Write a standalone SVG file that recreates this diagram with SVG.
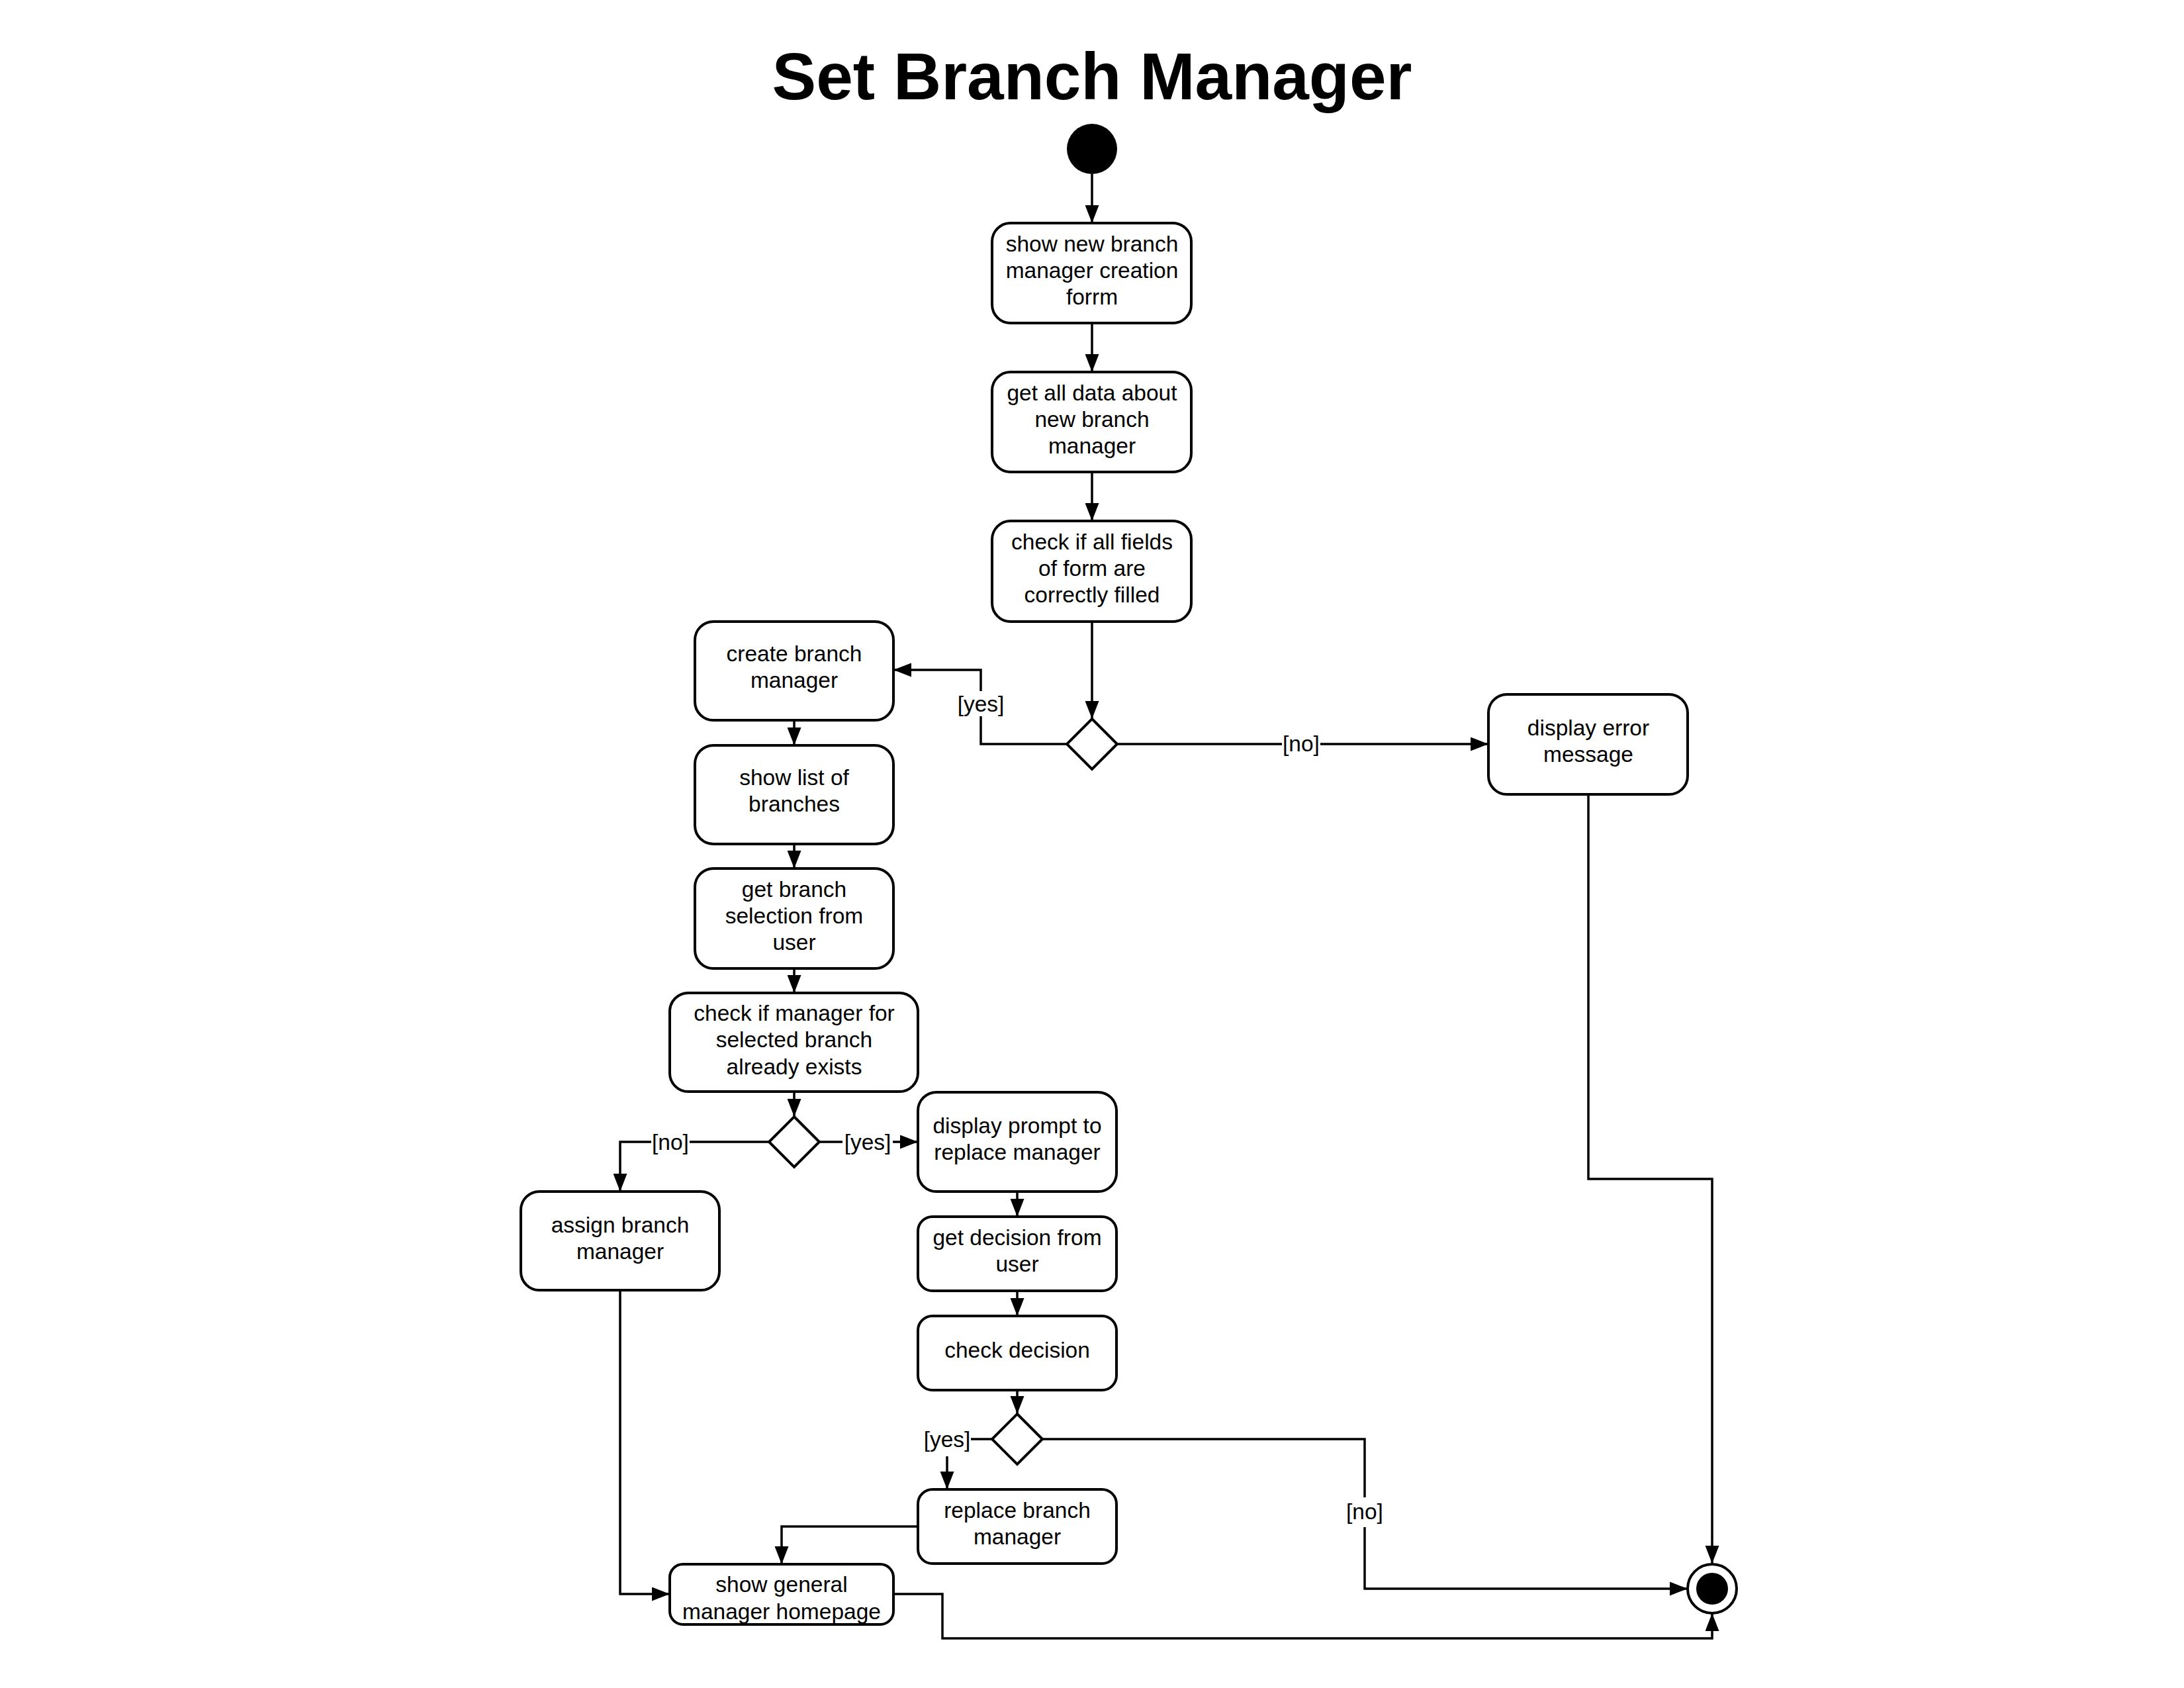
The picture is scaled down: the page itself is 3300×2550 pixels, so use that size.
<svg xmlns="http://www.w3.org/2000/svg" width="3300" height="2550" viewBox="0 0 3300 2550">
<style>
.box{fill:#fff;stroke:#000;stroke-width:4}
.t{font-family:"Liberation Sans",Arial,sans-serif;font-size:33.5px;fill:#000;text-anchor:middle}
.title{font-family:"Liberation Sans",Arial,sans-serif;font-size:100px;font-weight:bold;fill:#000;text-anchor:middle}
.c{fill:none;stroke:#000;stroke-width:3.5}
.lb{fill:#fff}
</style>
<defs>
<marker id="ah" viewBox="0 0 27 21" refX="27" refY="10.5" markerUnits="userSpaceOnUse" markerWidth="27" markerHeight="21" orient="auto">
<path d="M0,0 L27,10.5 L0,21 Z" fill="#000"/>
</marker>
</defs>
<rect width="3300" height="2550" fill="#fff"/>
<text class="title" x="1650" y="150">Set Branch Manager</text>

<g id="connectors">
<path class="c" marker-end="url(#ah)" d="M1650,263 L1650,337"/>
<path class="c" marker-end="url(#ah)" d="M1650,488 L1650,562"/>
<path class="c" marker-end="url(#ah)" d="M1650,713 L1650,787"/>
<path class="c" marker-end="url(#ah)" d="M1650,939 L1650,1086"/>
<path class="c" marker-end="url(#ah)" d="M1612,1124 L1482,1124 L1482,1012 L1350,1012"/>
<path class="c" marker-end="url(#ah)" d="M1688,1124 L2249,1124"/>
<path class="c" marker-end="url(#ah)" d="M1200,1088 L1200,1126"/>
<path class="c" marker-end="url(#ah)" d="M1200,1275 L1200,1312"/>
<path class="c" marker-end="url(#ah)" d="M1200,1463 L1200,1500"/>
<path class="c" marker-end="url(#ah)" d="M1200,1649 L1200,1687"/>
<path class="c" marker-end="url(#ah)" d="M1162,1725 L937,1725 L937,1800"/>
<path class="c" marker-end="url(#ah)" d="M1238,1725 L1387,1725"/>
<path class="c" marker-end="url(#ah)" d="M1537,1800 L1537,1838"/>
<path class="c" marker-end="url(#ah)" d="M1537,1950 L1537,1988"/>
<path class="c" marker-end="url(#ah)" d="M1537,2100 L1537,2136"/>
<path class="c" marker-end="url(#ah)" d="M1499,2174 L1431,2174 L1431,2250"/>
<path class="c" marker-end="url(#ah)" d="M1575,2174 L2062,2174 L2062,2400 L2550,2400"/>
<path class="c" marker-end="url(#ah)" d="M1387,2306 L1181,2306 L1181,2363"/>
<path class="c" marker-end="url(#ah)" d="M937,1949 L937,2408 L1012,2408"/>
<path class="c" marker-end="url(#ah)" d="M1350,2408 L1424,2408 L1424,2475 L2587,2475 L2587,2437"/>
<path class="c" marker-end="url(#ah)" d="M2400,1200 L2400,1781 L2587,1781 L2587,2362"/>
<g id="labels">
<rect class="lb" x="1444" y="1044" width="76" height="38"/>
<text class="t" x="1482" y="1075">[yes]</text>
<rect class="lb" x="1937" y="1104" width="58" height="38"/>
<text class="t" x="1966" y="1135">[no]</text>
<rect class="lb" x="984" y="1706" width="58" height="38"/>
<text class="t" x="1013" y="1737">[no]</text>
<rect class="lb" x="1273" y="1706" width="76" height="38"/>
<text class="t" x="1311" y="1737">[yes]</text>
<rect class="lb" x="1395" y="2155" width="72" height="45"/>
<text class="t" x="1431" y="2186">[yes]</text>
<rect class="lb" x="2033" y="2262" width="58" height="45"/>
<text class="t" x="2062" y="2295">[no]</text>
</g>
</g>

<g id="start"><circle cx="1650" cy="225" r="38" fill="#000"/></g>

<g id="n1"><rect class="box" x="1499" y="337" width="301" height="151" rx="28"/>
<text class="t" x="1650" y="380">show new branch</text><text class="t" x="1650" y="420">manager creation</text><text class="t" x="1650" y="460">forrm</text></g>

<g id="n2"><rect class="box" x="1499" y="562" width="301" height="151" rx="28"/>
<text class="t" x="1650" y="605">get all data about</text><text class="t" x="1650" y="645">new branch</text><text class="t" x="1650" y="685">manager</text></g>

<g id="n3"><rect class="box" x="1499" y="787" width="301" height="152" rx="28"/>
<text class="t" x="1650" y="830">check if all fields</text><text class="t" x="1650" y="870">of form are</text><text class="t" x="1650" y="910">correctly filled</text></g>

<g id="d1"><path class="box" d="M1650,1086 L1688,1124 L1650,1162 L1612,1124 Z"/></g>

<g id="n_error"><rect class="box" x="2249" y="1049" width="301" height="151" rx="28"/>
<text class="t" x="2400" y="1111">display error</text><text class="t" x="2400" y="1151">message</text></g>

<g id="n_create"><rect class="box" x="1050" y="939" width="300" height="149" rx="28"/>
<text class="t" x="1200" y="999">create branch</text><text class="t" x="1200" y="1039">manager</text></g>

<g id="n_list"><rect class="box" x="1050" y="1126" width="300" height="149" rx="28"/>
<text class="t" x="1200" y="1186">show list of</text><text class="t" x="1200" y="1226">branches</text></g>

<g id="n_sel"><rect class="box" x="1050" y="1312" width="300" height="151" rx="28"/>
<text class="t" x="1200" y="1355">get branch</text><text class="t" x="1200" y="1395">selection from</text><text class="t" x="1200" y="1435">user</text></g>

<g id="n_checkmgr"><rect class="box" x="1012" y="1500" width="375" height="149" rx="28"/>
<text class="t" x="1200" y="1542">check if manager for</text><text class="t" x="1200" y="1582">selected branch</text><text class="t" x="1200" y="1623">already exists</text></g>

<g id="d2"><path class="box" d="M1200,1687 L1238,1725 L1200,1763 L1162,1725 Z"/></g>

<g id="n_assign"><rect class="box" x="787" y="1800" width="300" height="149" rx="28"/>
<text class="t" x="937" y="1862">assign branch</text><text class="t" x="937" y="1902">manager</text></g>

<g id="n_prompt"><rect class="box" x="1387" y="1650" width="300" height="150" rx="28"/>
<text class="t" x="1537" y="1712">display prompt to</text><text class="t" x="1537" y="1752">replace manager</text></g>

<g id="n_getdec"><rect class="box" x="1387" y="1838" width="300" height="112" rx="22"/>
<text class="t" x="1537" y="1881">get decision from</text><text class="t" x="1537" y="1921">user</text></g>

<g id="n_checkdec"><rect class="box" x="1387" y="1988" width="300" height="112" rx="22"/>
<text class="t" x="1537" y="2051">check decision</text></g>

<g id="d3"><path class="box" d="M1537,2136 L1575,2174 L1537,2212 L1499,2174 Z"/></g>

<g id="n_replace"><rect class="box" x="1387" y="2250" width="300" height="112" rx="22"/>
<text class="t" x="1537" y="2293">replace branch</text><text class="t" x="1537" y="2333">manager</text></g>

<g id="n_home"><rect class="box" x="1012" y="2363" width="338" height="91" rx="20"/>
<text class="t" x="1181" y="2405">show general</text><text class="t" x="1181" y="2446">manager homepage</text></g>

<g id="end"><circle cx="2587" cy="2400" r="37" fill="#fff" stroke="#000" stroke-width="4"/><circle cx="2587" cy="2400" r="24" fill="#000"/></g>
</svg>
